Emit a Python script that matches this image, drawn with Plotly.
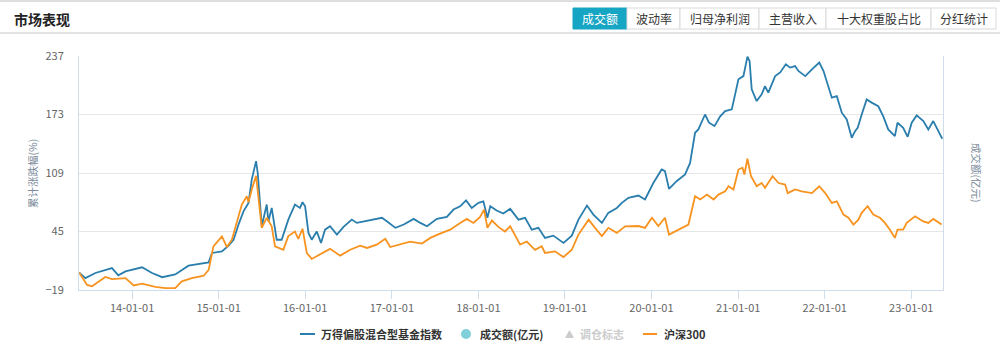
import plotly.graph_objects as go

# ---------------- data ----------------
fund_dates = [
    "2013-05-23", "2013-06-18", "2013-07-30", "2013-10-08", "2013-11-04", "2013-12-04",
    "2014-02-12", "2014-03-26", "2014-05-08", "2014-07-02", "2014-08-27", "2014-10-23",
    "2014-11-20", "2014-12-04", "2015-01-15", "2015-02-12", "2015-03-05", "2015-03-26",
    "2015-04-16", "2015-05-07", "2015-05-21", "2015-06-08", "2015-06-15", "2015-07-02",
    "2015-07-23", "2015-07-30", "2015-08-13", "2015-09-03", "2015-09-24", "2015-10-22",
    "2015-11-19", "2015-12-10", "2015-12-21", "2016-01-01", "2016-01-15", "2016-01-29",
    "2016-02-19", "2016-03-08", "2016-03-25", "2016-04-15", "2016-05-14", "2016-06-11",
    "2016-07-16", "2016-08-06", "2016-10-01", "2016-11-20", "2016-12-12", "2017-01-16",
    "2017-02-20", "2017-04-03", "2017-05-01", "2017-05-29", "2017-07-10", "2017-08-21",
    "2017-09-18", "2017-10-16", "2017-11-10", "2017-12-04", "2018-01-01", "2018-01-22",
    "2018-02-08", "2018-02-20", "2018-03-19", "2018-04-16", "2018-05-15", "2018-06-19",
    "2018-07-17", "2018-08-14", "2018-09-11", "2018-10-09", "2018-11-13", "2018-12-26",
    "2019-01-30", "2019-02-27", "2019-04-04", "2019-05-01", "2019-06-06", "2019-07-03",
    "2019-08-08", "2019-08-29", "2019-09-26", "2019-11-07", "2019-12-05", "2020-01-09",
    "2020-02-13", "2020-02-27", "2020-03-15", "2020-04-16", "2020-05-22", "2020-06-12",
    "2020-07-03", "2020-07-17", "2020-08-14", "2020-08-31", "2020-09-23", "2020-10-17",
    "2020-11-07", "2020-12-05", "2021-01-02", "2021-01-23", "2021-02-09", "2021-02-18",
    "2021-02-27", "2021-03-20", "2021-04-10", "2021-04-24", "2021-05-08", "2021-06-06",
    "2021-06-27", "2021-07-21", "2021-08-08", "2021-08-29", "2021-09-12", "2021-10-11",
    "2021-11-08", "2021-12-09", "2021-12-27", "2022-01-10", "2022-01-31", "2022-02-21",
    "2022-03-14", "2022-04-04", "2022-04-25", "2022-05-09", "2022-05-20", "2022-06-06",
    "2022-06-27", "2022-07-18", "2022-08-15", "2022-09-05", "2022-09-26", "2022-10-24",
    "2022-11-04", "2022-11-28", "2022-12-17", "2023-01-03", "2023-01-24", "2023-02-21",
    "2023-03-14", "2023-04-04", "2023-04-25", "2023-05-12",
]
fund_values = [
    0, -6, -0.4, 5, -3, 1.4,
    5.8, -0.4, -5, -2, 7.6, 9.8,
    11.2, 21.5, 23.3, 29.5, 36, 52.6,
    67, 76.3, 102, 122, 109, 50.7,
    74.5, 56, 70.8, 36, 36, 58,
    74.5, 70.8, 77, 72.6, 43.5, 36,
    45, 32.5, 47, 50.7, 41.6, 50,
    58, 54.4, 57, 60, 56, 49,
    52.6, 58.8, 54.4, 50.7, 58.8, 61,
    69, 72.6, 79, 70.8, 76.3, 78,
    60, 72.6, 68, 64.6, 69.8, 58,
    60, 47, 49, 38, 40.5, 32.5,
    40.5, 58, 73.4, 63.5, 54.4, 65.4,
    70.8, 76.3, 81.8, 84.3, 80, 98,
    112.8, 111, 91.7, 100, 107.4, 120,
    153, 156.7, 173, 164, 160.3, 171,
    176.7, 178.6, 211.5, 215, 236.3, 231.5,
    200.5, 187.7, 195, 204, 197, 215,
    219, 228, 224.3, 226, 220.6, 215,
    222.4, 229.8, 220.6, 207.8, 191.4, 193,
    175, 167.6, 147.6, 154.8, 158.5, 173,
    189.5, 186, 182, 171, 156.7, 149.3,
    164, 158.5, 148.6, 164, 172, 165.8,
    156.7, 165.8, 154.8, 146.5,
]

hs300_dates = [
    "2013-05-23", "2013-06-25", "2013-07-16", "2013-09-10", "2013-10-08", "2013-12-04",
    "2014-01-08", "2014-02-12", "2014-04-09", "2014-05-21", "2014-07-02", "2014-07-30",
    "2014-09-10", "2014-10-30", "2014-11-20", "2014-12-10", "2015-01-15", "2015-02-05",
    "2015-02-26", "2015-03-19", "2015-04-09", "2015-04-30", "2015-05-07", "2015-05-21",
    "2015-06-08", "2015-07-02", "2015-07-23", "2015-08-13", "2015-08-27", "2015-10-01",
    "2015-10-22", "2015-11-19", "2015-12-03", "2015-12-21", "2016-01-08", "2016-01-29",
    "2016-02-19", "2016-03-18", "2016-04-15", "2016-05-28", "2016-07-09", "2016-08-20",
    "2016-09-18", "2016-10-29", "2016-12-04", "2016-12-25", "2017-02-05", "2017-03-19",
    "2017-05-08", "2017-06-12", "2017-07-23", "2017-09-04", "2017-10-16", "2017-11-13",
    "2017-12-11", "2018-01-08", "2018-01-25", "2018-02-08", "2018-02-27", "2018-03-26",
    "2018-04-23", "2018-05-15", "2018-06-26", "2018-07-24", "2018-08-28", "2018-09-25",
    "2018-10-09", "2018-11-20", "2018-12-26", "2019-01-30", "2019-02-27", "2019-04-11",
    "2019-05-08", "2019-06-06", "2019-07-03", "2019-08-08", "2019-09-12", "2019-11-07",
    "2019-12-05", "2020-01-03", "2020-01-30", "2020-02-27", "2020-03-15", "2020-04-23",
    "2020-06-05", "2020-07-03", "2020-07-25", "2020-08-22", "2020-09-19", "2020-10-10",
    "2020-11-07", "2020-11-21", "2020-12-12", "2021-01-02", "2021-01-19", "2021-01-27",
    "2021-02-09", "2021-02-24", "2021-03-20", "2021-04-10", "2021-04-24", "2021-05-26",
    "2021-06-20", "2021-07-18", "2021-07-29", "2021-08-29", "2021-09-26", "2021-11-08",
    "2021-12-09", "2022-01-03", "2022-01-31", "2022-02-21", "2022-03-21", "2022-04-11",
    "2022-05-02", "2022-05-23", "2022-06-06", "2022-07-01", "2022-07-25", "2022-08-22",
    "2022-09-12", "2022-10-03", "2022-10-24", "2022-11-04", "2022-11-28", "2022-12-13",
    "2023-01-17", "2023-02-21", "2023-03-14", "2023-04-04", "2023-05-09",
]
hs300_values = [
    0, -13.5, -15, -4.7, -7, -6,
    -14, -12, -15.7, -17, -17, -9.6,
    -6, -3.4, 3, 28.8, 39.7, 28,
    36, 54.4, 74.5, 83.6, 77, 91,
    106, 49, 60, 50.7, 28.8, 25,
    40, 45, 37, 48, 21.5, 15,
    17.8, 21.5, 26, 18.6, 25, 29.5,
    27, 30.6, 37, 28, 30.6, 34,
    31.8, 38, 42.7, 47, 54.4, 58.8,
    54.4, 61, 69, 49, 57, 50,
    45, 50.7, 30.6, 34, 25, 28.8,
    21.5, 23.3, 17, 25, 41.6, 58,
    49, 40, 49, 43.5, 50.7, 51,
    49, 60, 51, 60, 41.6, 47,
    52.6, 83.6, 80, 85.4, 80, 85.4,
    89, 94.5, 91, 112.8, 114.7, 107.4,
    124.6, 105.5, 94.5, 98, 92.8, 105.5,
    98, 96.4, 87, 91, 89, 87,
    94.5, 87, 76.3, 78, 63.5, 60,
    52.6, 58, 65.4, 72.6, 63.5, 60,
    54.4, 47, 38, 47, 47, 54.4,
    61.7, 56, 54.4, 58.8, 52.6,
]

x_tick_values = ["2014-01-01", "2015-01-01", "2016-01-01", "2017-01-01", "2018-01-01",
                 "2019-01-01", "2020-01-01", "2021-01-01", "2022-01-01", "2023-01-01"]
y_tick_values = [-19, 45, 109, 173, 237]

tab_labels = ["成交额", "波动率", "归母净利润", "主营收入", "十大权重股占比", "分红统计"]
legend_labels = ["万得偏股混合型基金指数", "成交额(亿元)", "调仓标志", "沪深300"]

# ---------------- styling ----------------
W, H = 1000, 354
L, R, T, B = 79, 943, 56, 290
FONT = "Noto Sans CJK SC, Microsoft YaHei, sans-serif"
BLUE = "#2a7ead"
ORANGE = "#f7931e"
TEAL = "#17a5c4"
AXIS = "#cfdcea"
GRID = "#e6e6e6"


def px(x):
    return (x - L) / (R - L)


def py(y):
    return (B - y) / (B - T)


fig = go.Figure()
fig.add_trace(go.Scatter(x=fund_dates, y=fund_values, mode="lines",
                         line=dict(color=BLUE, width=1.8), name=legend_labels[0],
                         showlegend=False))
fig.add_trace(go.Scatter(x=hs300_dates, y=hs300_values, mode="lines",
                         line=dict(color=ORANGE, width=1.8), name=legend_labels[3],
                         showlegend=False))

shapes = []
annotations = []

# header lines
shapes.append(dict(type="rect", xref="paper", yref="paper", x0=px(0), x1=px(W),
                   y0=py(0), y1=py(2), fillcolor="#dedede", line_width=0, layer="below"))
shapes.append(dict(type="rect", xref="paper", yref="paper", x0=px(0), x1=px(W),
                   y0=py(32), y1=py(34), fillcolor="#e3e3e3", line_width=0, layer="below"))
annotations.append(dict(text="<b>市场表现</b>", xref="paper", yref="paper", x=px(12), y=py(19),
                        xanchor="left", yanchor="middle", showarrow=False,
                        font=dict(family=FONT, size=14, color="#222")))

# tabs
bounds = [573, 627, 680, 759, 826, 931, 996]
for i, lab in enumerate(tab_labels):
    active = i == 0
    shapes.append(dict(type="rect", xref="paper", yref="paper",
                       x0=px(bounds[i]), x1=px(bounds[i + 1]), y0=py(29), y1=py(8),
                       fillcolor=TEAL if active else "white",
                       line=dict(color=TEAL if active else "#d9d9d9", width=1)))
    annotations.append(dict(text=lab, xref="paper", yref="paper",
                            x=px((bounds[i] + bounds[i + 1]) / 2), y=py(19),
                            xanchor="center", yanchor="middle", showarrow=False,
                            font=dict(family=FONT, size=12, color="white" if active else "#333")))

# axis titles
annotations.append(dict(text="累计涨跌幅(%)", xref="paper", yref="paper", x=px(32), y=py(174),
                        textangle=-90, showarrow=False, xanchor="center", yanchor="middle",
                        font=dict(family=FONT, size=10.5, color="#7a8a9a")))
annotations.append(dict(text="成交额(亿元)", xref="paper", yref="paper", x=px(977), y=py(173),
                        textangle=90, showarrow=False, xanchor="center", yanchor="middle",
                        font=dict(family=FONT, size=10.5, color="#7a8a9a")))

# custom legend
LY = 334
shapes.append(dict(type="line", xref="paper", yref="paper", x0=px(300), x1=px(315),
                   y0=py(LY), y1=py(LY), line=dict(color=BLUE, width=2)))
annotations.append(dict(text="<b>" + legend_labels[0] + "</b>", xref="paper", yref="paper",
                        x=px(319), y=py(LY), xanchor="left", yanchor="middle", showarrow=False,
                        font=dict(family=FONT, size=11, color="#333")))
shapes.append(dict(type="circle", xref="paper", yref="paper", x0=px(461), x1=px(471),
                   y0=py(LY + 5), y1=py(LY - 5), fillcolor="#7fd0d8", line_width=0))
annotations.append(dict(text="<b>" + legend_labels[1] + "</b>", xref="paper", yref="paper",
                        x=px(478), y=py(LY), xanchor="left", yanchor="middle", showarrow=False,
                        font=dict(family=FONT, size=11, color="#333")))
tri = "M {a},{b} L {c},{d} L {e},{f} Z".format(
    a=px(565), b=py(LY + 4), c=px(574), d=py(LY + 4), e=px(569.5), f=py(LY - 4))
shapes.append(dict(type="path", xref="paper", yref="paper", path=tri,
                   fillcolor="#cccccc", line_width=0))
annotations.append(dict(text="<b>" + legend_labels[2] + "</b>", xref="paper", yref="paper",
                        x=px(578), y=py(LY), xanchor="left", yanchor="middle", showarrow=False,
                        font=dict(family=FONT, size=11, color="#cccccc")))
shapes.append(dict(type="line", xref="paper", yref="paper", x0=px(643), x1=px(657),
                   y0=py(LY), y1=py(LY), line=dict(color=ORANGE, width=2)))
annotations.append(dict(text="<b>" + legend_labels[3] + "</b>", xref="paper", yref="paper",
                        x=px(662), y=py(LY), xanchor="left", yanchor="middle", showarrow=False,
                        font=dict(family=FONT, size=11, color="#333")))

fig.update_layout(
    width=W, height=H,
    margin=dict(l=L, r=W - R, t=T, b=H - B, pad=0),
    paper_bgcolor="white", plot_bgcolor="white",
    showlegend=False,
    font=dict(family=FONT, size=11, color="#666"),
    shapes=shapes, annotations=annotations,
    xaxis=dict(type="date", range=["2013-05-22", "2023-05-15"],
               tickvals=x_tick_values, tickformat="%y-%m-%d",
               showgrid=False, zeroline=False,
               showline=True, linecolor=AXIS, linewidth=1,
               ticks="outside", ticklen=8, tickcolor=AXIS,
               tickfont=dict(family=FONT, size=11, color="#666")),
    yaxis=dict(range=[-19, 237], tickvals=y_tick_values,
               showgrid=True, gridcolor=GRID, gridwidth=1, zeroline=False,
               showline=True, linecolor=AXIS, linewidth=1, mirror=True,
               ticks="", ticklabelstandoff=12,
               tickfont=dict(family=FONT, size=11, color="#666")),
)

fig.write_html("out.html")
